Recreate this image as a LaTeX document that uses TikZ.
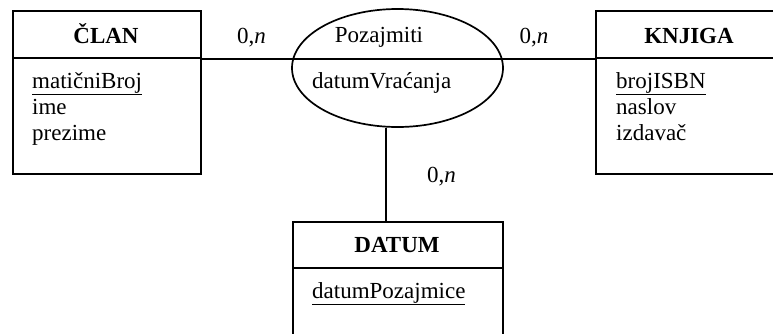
\documentclass[tikz,border=0pt]{standalone}
\usepackage{fontspec}
\setmainfont{Liberation Serif}
\usetikzlibrary{shapes.geometric}
\begin{document}
\begin{tikzpicture}[x=1pt,y=-1pt,
  box/.style={draw,line width=1.7pt,rectangle,inner sep=0pt,anchor=north west,minimum width=#1},
  box/.default=188pt,
  lbl/.style={inner sep=0pt,anchor=base,font=\fontsize{23}{26}\selectfont},
  attr/.style={inner sep=0pt,anchor=base west,font=\fontsize{23}{26}\selectfont},
  conn/.style={line width=1.7pt}]
\useasboundingbox (0,0) rectangle (773,333);
\clip (0,0) rectangle (773,333);
% entity CLAN
\node[box,minimum height=47pt] (clanH) at (12,10) {};
\node[box,minimum height=116pt] (clanB) at (12,57) {};
\node[lbl] (clanT) at (106,43) {\textbf{ČLAN}};
\node[attr] (clanA1) at (32,88) {\underline{matičniBroj}};
\node[attr] (clanA2) at (32,114) {ime};
\node[attr] (clanA3) at (32,140) {prezime};
% entity KNJIGA
\node[box,minimum height=47pt] (knjH) at (595,10) {};
\node[box,minimum height=116pt] (knjB) at (595,57) {};
\node[lbl] (knjT) at (689,43) {\textbf{KNJIGA}};
\node[attr] (knjA1) at (616,88) {\underline{brojISBN}};
\node[attr] (knjA2) at (616,114) {naslov};
\node[attr] (knjA3) at (616,140) {izdavač};
% entity DATUM
\node[box=210pt,minimum height=46pt] (datH) at (292,221) {};
\node[box=210pt,minimum height=90pt] (datB) at (292,267) {};
\node[lbl] (datT) at (397,252) {\textbf{DATUM}};
\node[attr] (datA1) at (312,298) {\underline{datumPozajmice}};
% relationship
\node[draw,line width=1.7pt,ellipse,inner sep=0pt,minimum width=211pt,minimum height=118pt] (rel) at (397.5,68) {};
\node[lbl] (relT) at (379,42) {Pozajmiti};
\node[attr] (relA) at (312,88) {datumVraćanja};
% connectors
\draw[conn] (clanH.south east) -- (knjH.south west);
\coordinate (vtop) at (386,221);
\draw[conn] (vtop) -- (vtop |- rel.south);
% cardinalities
\node[lbl] (c1) at (251.5,43) {0,\textit{n}};
\node[lbl] (c2) at (534,43) {0,\textit{n}};
\node[lbl] (c3) at (441.5,182) {0,\textit{n}};
\end{tikzpicture}
\end{document}
